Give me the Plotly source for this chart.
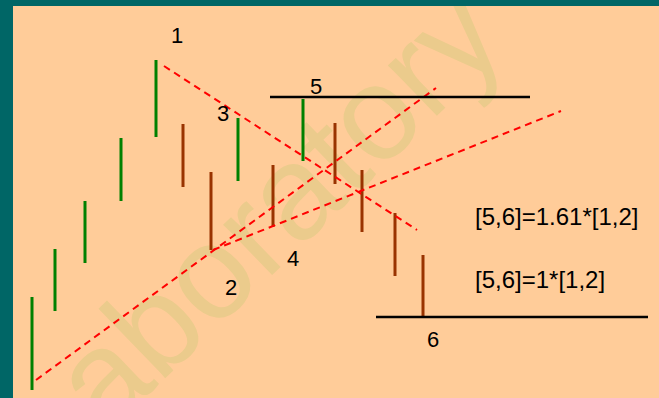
"""Elliott-style bar sketch: swings 1-6 with trend lines and the [5,6] projections."""

import plotly.graph_objects as go

# bar positions (horizontal px units) and high / low prices
bar_x = [32, 55, 85, 121, 156, 183, 211, 238, 273, 303, 335, 362, 395, 423]
bar_high = [101, 149, 197, 260, 338, 274, 226, 280, 233, 299, 275, 228, 185, 143]
bar_low = [8, 87, 135, 197, 261, 211, 148, 217, 171, 237, 214, 166, 122, 81]
bar_up = [True, True, True, True, True, False, False, True, False, True,
          False, False, False, False]

# dashed trend lines: (x0, y0, x1, y1)
trend_lines = [
    (164, 332, 417, 168),  # from 1 through 3
    (36, 18, 436, 310),    # from start through 2
    (213, 148, 561, 287),  # from 2 through 4
]

# horizontal levels: (x0, x1, y)
levels = [(270, 530, 301), (376, 648, 81)]

# swing labels
swing_text = ["1", "2", "3", "4", "5", "6"]
swing_x = [177, 231, 223, 293, 316, 433]
swing_y = [363, 111, 285, 140, 312, 59]

note_text = ["[5,6]=1.61*[1,2]", "[5,6]=1*[1,2]"]
note_x = [474, 474]
note_y = [182, 119]

GREEN = "#008000"
BROWN = "#993300"
FONT = "Liberation Sans, Arial, sans-serif"

fig = go.Figure()

for up, color in ((True, GREEN), (False, BROWN)):
    xs, ys = [], []
    for x, hi, lo, u in zip(bar_x, bar_high, bar_low, bar_up):
        if u == up:
            xs += [x, x, None]
            ys += [lo, hi, None]
    fig.add_trace(go.Scatter(x=xs, y=ys, mode="lines",
                             line=dict(color=color, width=3),
                             hoverinfo="skip"))

for x0, y0, x1, y1 in trend_lines:
    fig.add_trace(go.Scatter(x=[x0, x1], y=[y0, y1], mode="lines",
                             line=dict(color="#FF0000", width=2, dash="7px,5px"),
                             hoverinfo="skip"))

for x0, x1, y in levels:
    fig.add_trace(go.Scatter(x=[x0, x1], y=[y, y], mode="lines",
                             line=dict(color="black", width=2.5),
                             hoverinfo="skip"))

for t, x, y in zip(swing_text, swing_x, swing_y):
    fig.add_annotation(x=x, y=y, text=t, showarrow=False,
                       xanchor="center", yanchor="middle",
                       font=dict(family=FONT, size=22, color="black"))

for t, x, y in zip(note_text, note_x, note_y):
    fig.add_annotation(x=x, y=y, text=t, showarrow=False,
                       xanchor="left", yanchor="middle", borderpad=0,
                       font=dict(family=FONT, size=24, color="black"))

# watermark, kept under the bars via a below-layer shape label
fig.add_shape(type="rect", x0=257, x1=277, y0=190, y1=210, layer="below",
              line=dict(width=0), fillcolor="rgba(0,0,0,0)",
              label=dict(text="aboratory", textangle=-44,
                         textposition="middle center",
                         font=dict(family=FONT, size=133,
                                   color="rgb(235,203,140)")))

fig.update_xaxes(range=[13, 659], visible=False, fixedrange=True)
fig.update_yaxes(range=[0, 392], visible=False, fixedrange=True)
fig.update_layout(
    width=659, height=398,
    margin=dict(l=13, r=0, t=6, b=0, pad=0),
    paper_bgcolor="#006666", plot_bgcolor="#FFCC99",
    showlegend=False, hovermode=False,
)

fig.write_html(
    "out.html",
    config={"displayModeBar": False},
    post_script="document.body.style.margin='0';"
                "document.body.style.overflow='hidden';",
)
